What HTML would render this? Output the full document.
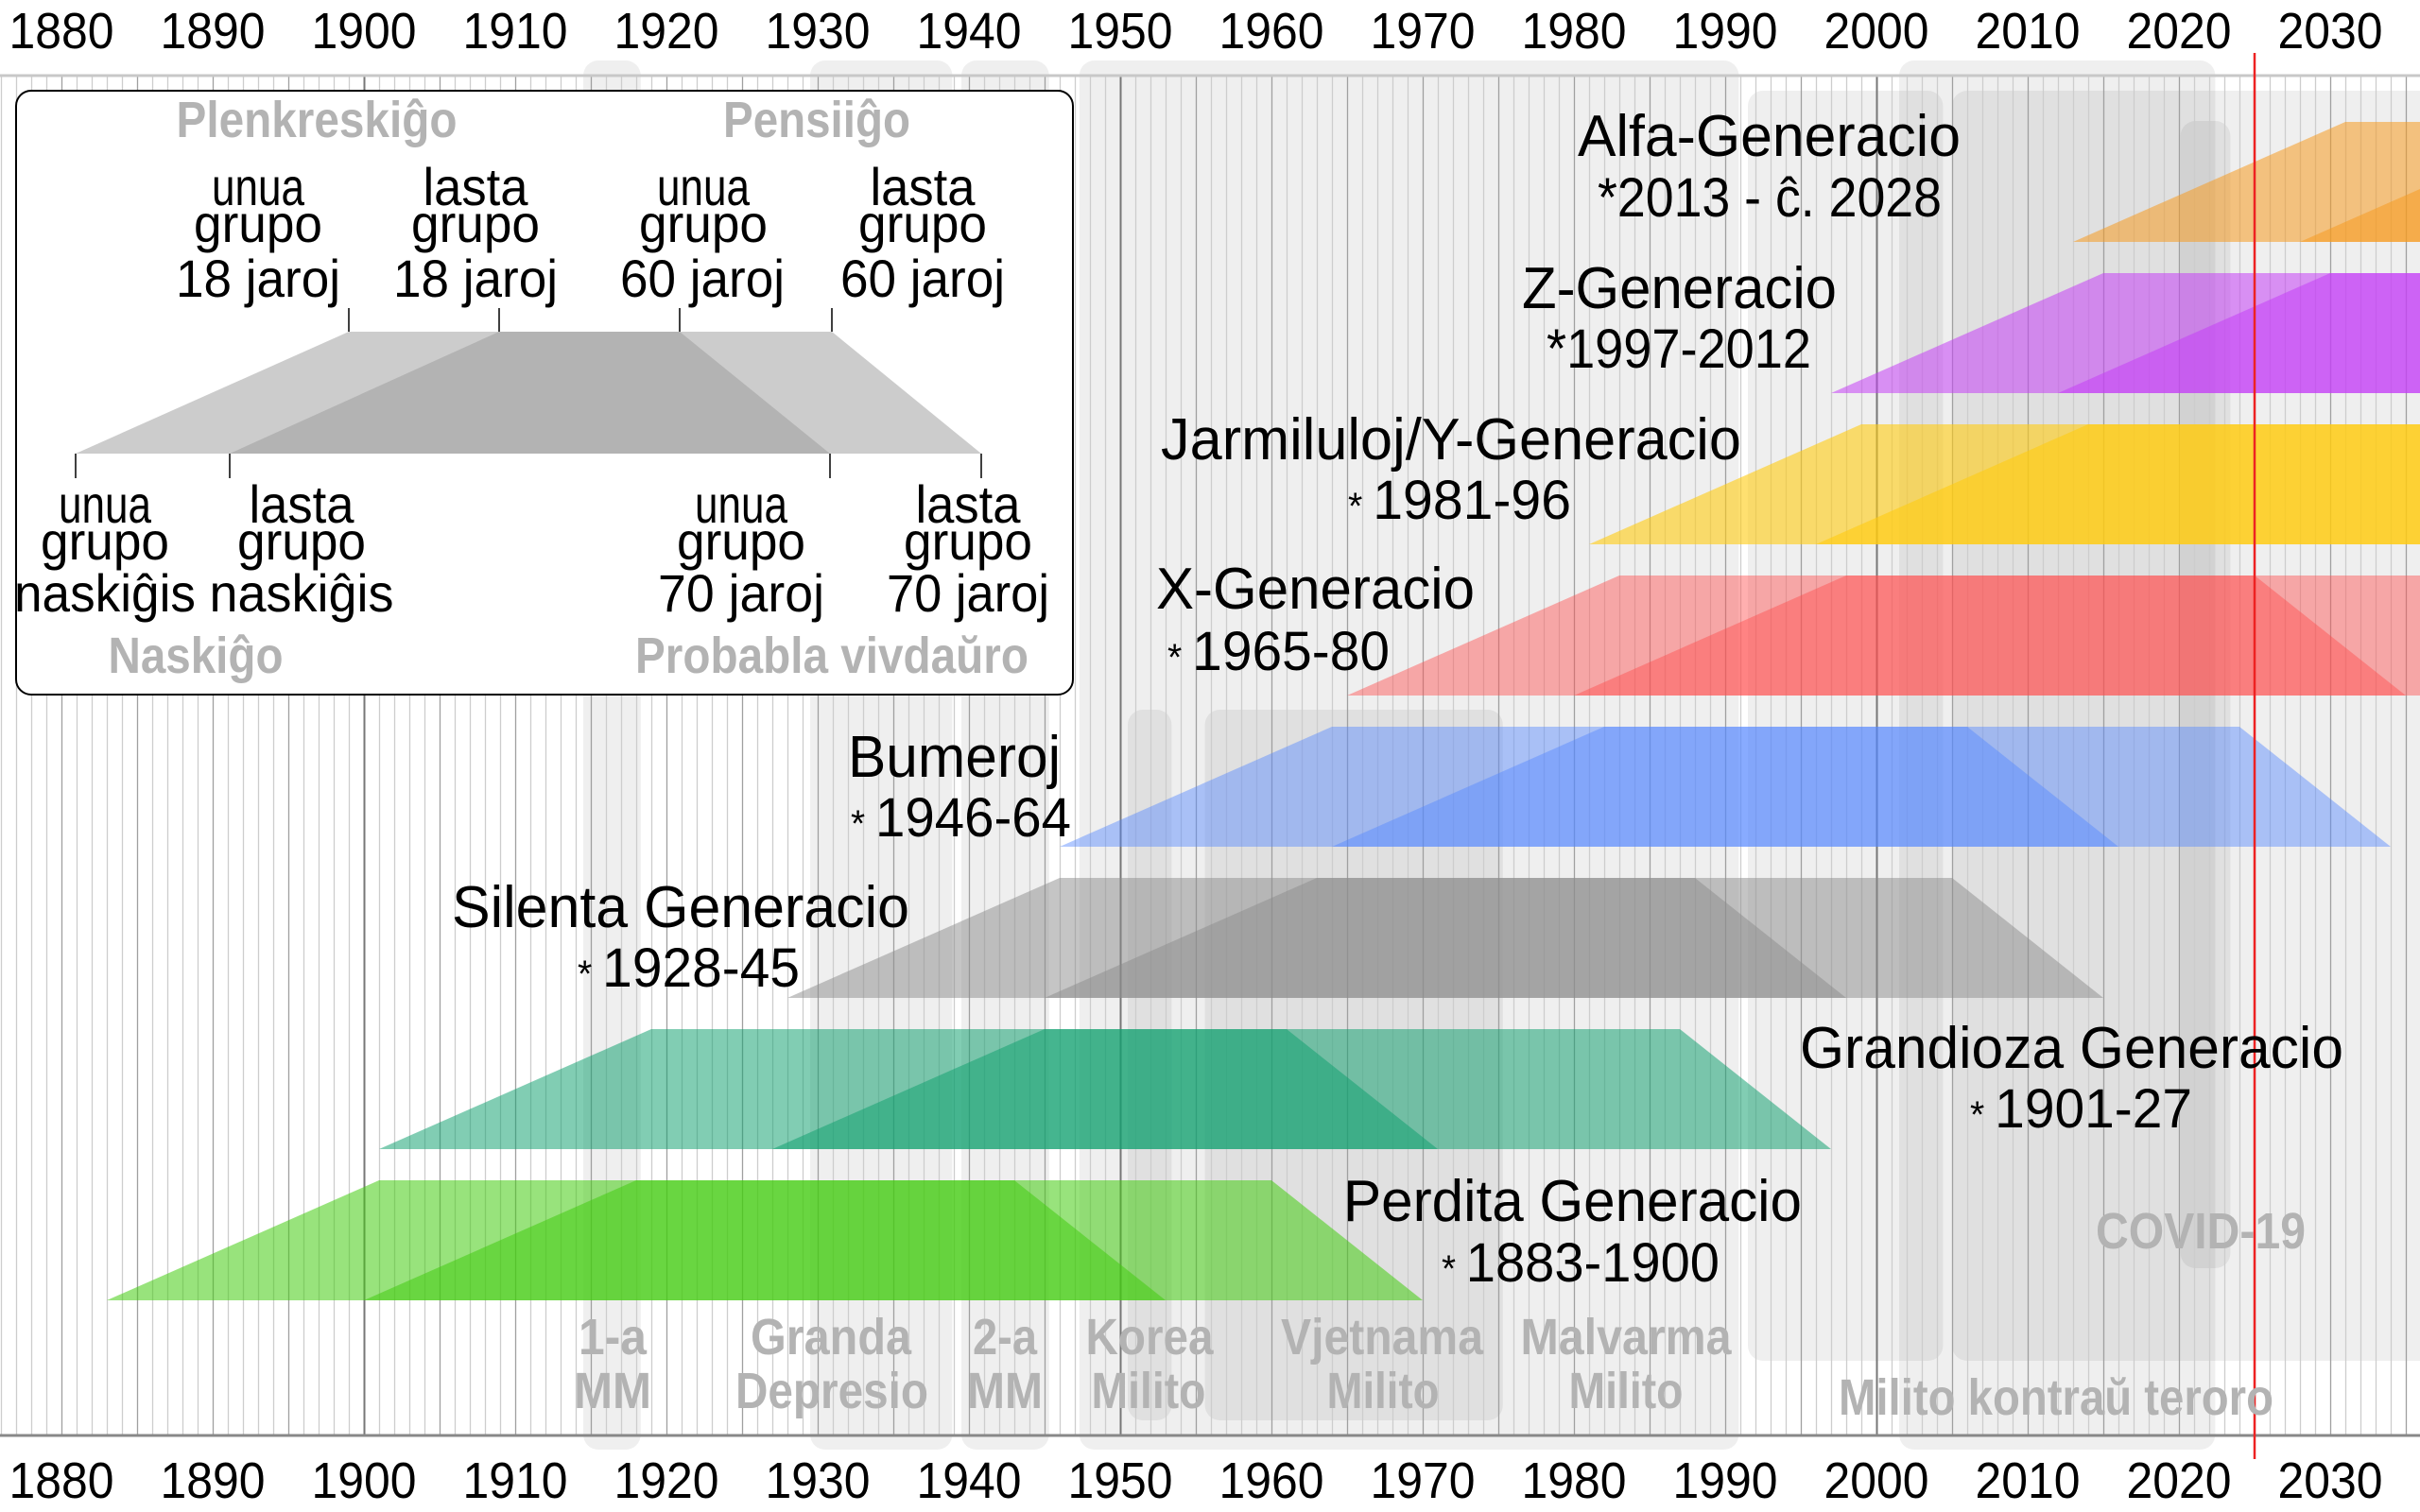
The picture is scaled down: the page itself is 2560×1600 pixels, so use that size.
<!DOCTYPE html>
<html><head><meta charset="utf-8"><title>Generacioj</title>
<style>html,body{margin:0;padding:0;background:#fff;}svg{display:block;}</style>
</head><body>
<svg id="chart" xmlns="http://www.w3.org/2000/svg" width="2560" height="1600" viewBox="0 0 2560 1600" font-family="'Liberation Sans', sans-serif"></svg>
<script>
const tickYears = [1880,1890,1900,1910,1920,1930,1940,1950,1960,1970,1980,1990,2000,2010,2020,2030];
const genNames = ["Alfa-Generacio","Z-Generacio","Jarmiluloj/Y-Generacio","X-Generacio","Bumeroj","Silenta Generacio","Grandioza Generacio","Perdita Generacio"];
const genStart = [2013,1997,1981,1965,1946,1928,1901,1883];
const genEnd = [2028,2012,1996,1980,1964,1945,1927,1900];
const genYearText = ["*2013 - ĉ. 2028","*1997-2012","1981-96","1965-80","1946-64","1928-45","1901-27","1883-1900"];
const lifeAges = [18,60,70];
const eventNames = ["1-a MM","Granda Depresio","2-a MM","Malvarma Milito","Korea Milito","Vjetnama Milito","post-malvarma","post-2005","Milito kontraŭ teroro","COVID-19"];
const eventStart = [1914.5,1929.5,1939.5,1947.3,1950.5,1955.6,1991.5,2005,2001.5,2020.1];
const eventEnd = [1918.3,1938.9,1945.3,1990.9,1953.4,1975.3,2004.4,2040,2022.4,2023.4];
const currentYear = 2025;

// layout (not data)
const genColors = ["#f59a20","#c440f5","#ffcc10","#ff4d4d","#5588ff","#8c8c8c","#11a070","#44cc11"];
const genOpac = [0.55,0.55,0.6,0.45,0.45,0.5,0.53,0.55];
const genLabelLayout = [
 [1669,405,165,1690,364,229],[1610,333,326,1636,280,389],[1228,614,486,1426,236,549],
 [1223,337,644,1235,235,709],[897,225,822,900,233,885],[478,484,981,611,235,1044],
 [1904,575,1130,2084,235,1193],[1421,485,1292,1525,294,1356]];
const eventBoxY = [[64,1534],[64,1534],[64,1534],[64,1534],[751,1503],[751,1503],[96,1440],[96,1440],[64,1534],[128,1342]];

const NS = "http://www.w3.org/2000/svg";
const svg = document.getElementById("chart");
function xs(yr){ return 65 + (yr - 1880) * 16; }
function el(tag, parent){ const e = document.createElementNS(NS, tag); parent.appendChild(e); return e; }
function txt(parent, cx, base, s, size, len, fill, weight, anchor){
  const t = el("text", parent);
  t.setAttribute("x", cx); t.setAttribute("y", base);
  t.setAttribute("font-size", size); t.setAttribute("fill", fill || "#000");
  t.setAttribute("text-anchor", anchor || "middle");
  if (weight) t.setAttribute("font-weight", weight);
  if (len) { t.setAttribute("textLength", len); t.setAttribute("lengthAdjust", "spacingAndGlyphs"); }
  t.textContent = s;
  return t;
}

// event boxes
const gBoxes = el("g", svg);


eventStart.forEach((s, i) => {
  const r = el("rect", gBoxes);
  
  
  r.setAttribute("x", xs(s)); r.setAttribute("width", xs(eventEnd[i]) - xs(s));
  r.setAttribute("y", eventBoxY[i][0]); r.setAttribute("height", eventBoxY[i][1] - eventBoxY[i][0]);
  r.setAttribute("rx", 16); r.setAttribute("fill", "rgba(0,0,0,0.062)");
});

// grid lines
const gGrid = el("g", svg);


for (let y = 1876; y <= 2040; y++) {
  const l = el("line", gGrid);
  
  
  const x = xs(y) + 0.5;
  l.setAttribute("x1", x); l.setAttribute("x2", x); l.setAttribute("y1", 80); l.setAttribute("y2", 1519);
  l.setAttribute("stroke", y % 50 === 0 ? "#777" : (y % 5 === 0 ? "#a0a0a0" : "#cdcdcd"));
  l.setAttribute("stroke-width", y % 50 === 0 ? 2 : 1.3);
}
const ax1 = el("line", svg);


ax1.setAttribute("x1",0);ax1.setAttribute("x2",2560);ax1.setAttribute("y1",80);ax1.setAttribute("y2",80);ax1.setAttribute("stroke","#c8c8c8");ax1.setAttribute("stroke-width",3);
const ax2 = el("line", svg);


ax2.setAttribute("x1",0);ax2.setAttribute("x2",2560);ax2.setAttribute("y1",1519);ax2.setAttribute("y2",1519);ax2.setAttribute("stroke","#888");ax2.setAttribute("stroke-width",3);

// generations
const gGen = el("g", svg);


genStart.forEach((s, i) => {
  const top = 129 + i * 160, bot = top + 127;
  [s, genEnd[i]].forEach((b, k) => {
    const p = el("polygon", gGen);
    
    
    p.setAttribute("points", `${xs(b)},${bot} ${xs(b+lifeAges[0])},${top} ${xs(b+lifeAges[1])},${top} ${xs(b+lifeAges[2])},${bot}`);
    p.setAttribute("fill", genColors[i]); p.setAttribute("fill-opacity", genOpac[i]);
  });
});

// red current-year line
const red = el("line", svg);


red.setAttribute("x1", xs(currentYear)); red.setAttribute("x2", xs(currentYear));
red.setAttribute("y1", 56); red.setAttribute("y2", 1544); red.setAttribute("stroke", "#ee2222"); red.setAttribute("stroke-width", 2.5);

// tick labels
tickYears.forEach(y => {
  const a = txt(svg, xs(y), 51, String(y), 54, 111);
  
  
  const b = txt(svg, xs(y), 1585, String(y), 54, 111);
  
  
});

// event labels
const GRAY = "#b3b3b3";
const evLabels = [
 ["1-a",648,1433,72],["MM",648,1490,82],["Granda",879,1433,170],["Depresio",880,1490,204],
 ["2-a",1063,1433,68],["MM",1063,1490,80],["Korea",1216,1433,135],["Milito",1215,1490,121],
 ["Vjetnama",1462,1433,214],["Milito",1463,1490,119],["Malvarma",1720,1433,223],["Milito",1720,1490,121],
 ["Milito kontraŭ teroro",2175,1497,460],["COVID-19",2328,1321,222]];
evLabels.forEach(l => {
  const t = txt(svg, l[1], l[2], l[0], 54, l[3], GRAY, "bold");
  
  
});

// generation labels
genNames.forEach((n, i) => {
  const L = genLabelLayout[i];
  const t = txt(svg, L[0], L[2], n, 62, L[1], "#000", null, "start");
  
  
  const s = el("text", svg);
  
  
  s.setAttribute("x", L[3]); s.setAttribute("y", L[5]); s.setAttribute("font-size", 58);
  s.setAttribute("textLength", L[4]); s.setAttribute("lengthAdjust", "spacingAndGlyphs");
  if (genYearText[i].startsWith("*")) { s.textContent = genYearText[i]; }
  else {
    const a = el("tspan", s); a.setAttribute("font-size", 40); a.textContent = "* ";
    const b = el("tspan", s); b.textContent = genYearText[i];
  }
});

// inset legend
const gIn = el("g", svg);


const box = el("rect", gIn);


box.setAttribute("x",17);box.setAttribute("y",96);box.setAttribute("width",1118);box.setAttribute("height",639);
box.setAttribute("rx",16);box.setAttribute("fill","#fff");box.setAttribute("stroke","#000");box.setAttribute("stroke-width",2);
[["80,480 369,351 719,351 878,480"],["243,480 528,351 880,351 1038,480"]].forEach((p,k)=>{
  const q = el("polygon", gIn);
  
  
  q.setAttribute("points", p[0]); q.setAttribute("fill", "#999"); q.setAttribute("fill-opacity", 0.5);
});
[[369,326,351],[528,326,351],[719,326,351],[880,326,351],[80,480,506],[243,480,506],[878,480,506],[1038,480,506]].forEach(t=>{
  const l = el("line", gIn);
  
  
  l.setAttribute("x1",t[0]);l.setAttribute("x2",t[0]);l.setAttribute("y1",t[1]);l.setAttribute("y2",t[2]);l.setAttribute("stroke","#000");l.setAttribute("stroke-width",1.5);
});
const inLabels = [
 ["unua",273,217,98],["grupo",273,256,136],["18 jaroj",273,314,174],
 ["lasta",503,217,111],["grupo",503,256,136],["18 jaroj",503,314,174],
 ["unua",744,217,98],["grupo",744,256,136],["60 jaroj",743,314,174],
 ["lasta",976,217,111],["grupo",976,256,136],["60 jaroj",976,314,174],
 ["unua",111,553,98],["grupo",111,592,136],["naskiĝis",111,647,192],
 ["lasta",319,553,111],["grupo",319,592,136],["naskiĝis",319,647,195],
 ["unua",784,553,98],["grupo",784,592,136],["70 jaroj",784,647,176],
 ["lasta",1024,553,111],["grupo",1024,592,136],["70 jaroj",1024,647,172]];
inLabels.forEach(l=>{
  const t = txt(gIn, l[1], l[2], l[0], 56, l[3]);
  
  
});
[["Plenkreskiĝo",335,145,297],["Pensiiĝo",864,145,198],["Naskiĝo",207,712,185],["Probabla vivdaŭro",880,712,416]].forEach(l=>{
  const t = txt(gIn, l[1], l[2], l[0], 54, l[3], GRAY, "bold");
  
  
});
</script>
</body></html>
